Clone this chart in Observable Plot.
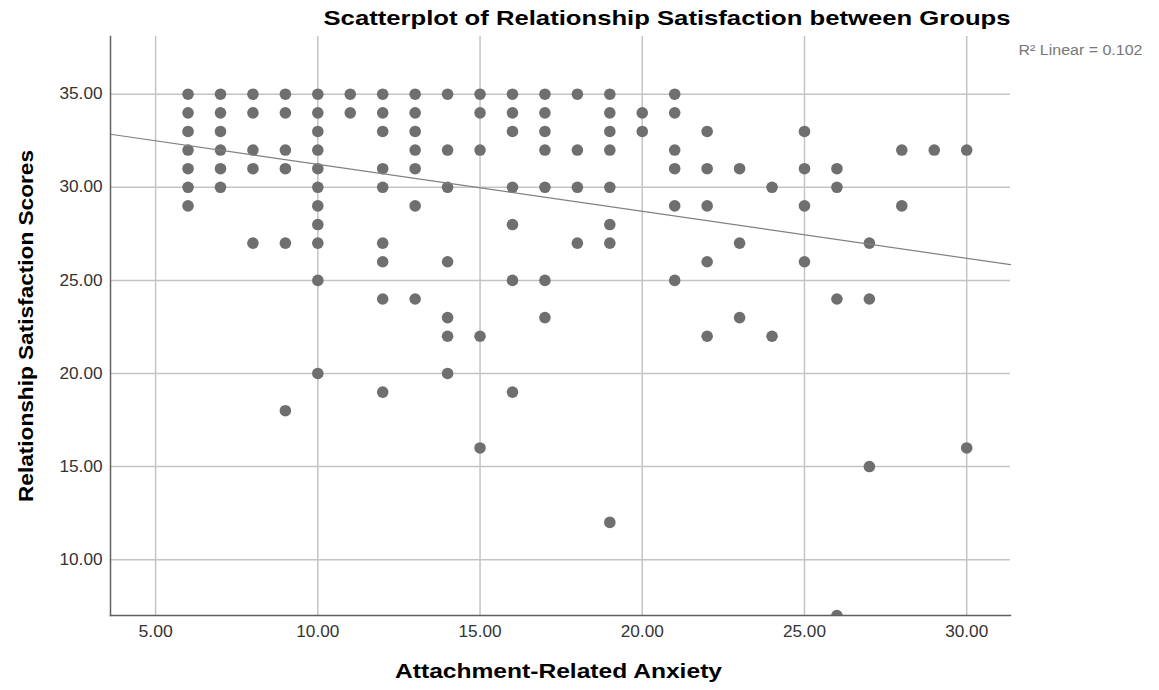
<!DOCTYPE html>
<html><head><meta charset="utf-8">
<script src="https://cdn.jsdelivr.net/npm/d3@7"></script>
<script src="https://cdn.jsdelivr.net/npm/@observablehq/plot@0.6"></script>
<style>body{margin:0;background:#fff;font-family:"Liberation Sans",Arial,sans-serif}</style>
</head><body><div id="chart"></div>
<script>
const chartTitle = "Scatterplot of Relationship Satisfaction between Groups";
const xLabel = "Attachment-Related Anxiety";
const yLabel = "Relationship Satisfaction Scores";
const fitLabel = "R\u00B2 Linear = 0.102";

const anxietyLevels = [6,7,8,9,10,11,12,13,14,15,16,17,18,19,20,21,22,23,24,25,26,27,28,29,30];
const satisfactionByAnxiety = [
  [35,34,33,32,31,30,29],
  [35,34,33,32,31,30],
  [35,34,32,31,27],
  [35,34,32,31,27,18],
  [35,34,33,32,31,30,29,28,27,25,20],
  [35,34],
  [35,34,33,31,30,27,26,24,19],
  [35,34,33,32,31,29,24],
  [35,32,30,26,23,22,20],
  [35,34,32,22,16],
  [35,34,33,30,28,25,19],
  [35,34,33,32,30,25,23],
  [35,32,30,27],
  [35,34,33,32,30,28,27,12],
  [34,33],
  [35,34,32,31,29,25],
  [33,31,29,26,22],
  [31,27,23],
  [30,22],
  [33,31,29,26],
  [31,30,24,7],
  [27,24,15],
  [32,29],
  [32],
  [32,16]
];
const xTicks = [5,10,15,20,25,30];
const yTicks = [10,15,20,25,30,35];
const xDomain = [3.61, 31.35];
const yDomain = [7, 38.1];
const fitIntercept = 33.76;
const fitSlope = -0.2525;

const points = anxietyLevels.flatMap((x, i) => satisfactionByAnxiety[i].map(y => ({x, y})));
const fitLine = xDomain.map(x => ({x, y: fitIntercept + fitSlope * x}));

const chart = Plot.plot({
  width: 1159,
  height: 690,
  marginLeft: 110,
  marginRight: 149,
  marginTop: 36,
  marginBottom: 75,
  style: {fontFamily: "'Liberation Sans', Arial, sans-serif", fontSize: "16px", color: "#333", background: "#fff"},
  x: {domain: xDomain, label: null},
  y: {domain: yDomain, label: null},
  marks: [
    Plot.gridX(xTicks, {stroke: "#c4c4c4", strokeOpacity: 1, strokeWidth: 1.5}),
    Plot.gridY(yTicks, {stroke: "#c4c4c4", strokeOpacity: 1, strokeWidth: 1.5}),
    Plot.axisX(xTicks, {tickSize: 0, tickPadding: 10, tickFormat: d => d.toFixed(2), fontSize: 16, fill: "#333", label: null}),
    Plot.axisY(yTicks, {tickSize: 0, tickPadding: 8, tickFormat: d => d.toFixed(2), fontSize: 16, fill: "#333", label: null}),
    Plot.dot(points, {x: "x", y: "y", r: 5.8, fill: "#6f6f6f", stroke: "none", clip: true}),
    Plot.line(fitLine, {x: "x", y: "y", stroke: "#808080", strokeWidth: 1.2}),
    Plot.frame({anchor: "left", stroke: "#606060", strokeWidth: 1.5}),
    Plot.frame({anchor: "bottom", stroke: "#606060", strokeWidth: 1.5}),
    Plot.text([chartTitle], {className: "ttl", frameAnchor: "top-right", textAnchor: "end", lineAnchor: "middle", dy: -18, fontSize: 21, fontWeight: "bold", fill: "#000"}),
    Plot.text([fitLabel], {className: "fitlbl", frameAnchor: "top-right", textAnchor: "start", lineAnchor: "middle", dx: 8, dy: 14, fontSize: 14, fill: "#777"}),
    Plot.text([xLabel], {className: "xlbl", frameAnchor: "bottom", textAnchor: "middle", lineAnchor: "middle", dx: -2, dy: 56, fontSize: 21, fontWeight: "bold", fill: "#000"}),
    Plot.text([yLabel], {className: "ylbl", frameAnchor: "left", textAnchor: "middle", lineAnchor: "middle", rotate: -90, dx: -84, fontSize: 21, fontWeight: "bold", fill: "#000"})
  ]
});
// match the slightly wider lettering of the reference
const stretch = (sel, len) => d3.select(chart).selectAll(sel)
  .attr("textLength", function() { return typeof len === "function" ? len(this.textContent) : len; })
  .attr("lengthAdjust", "spacingAndGlyphs");
stretch(".ttl text", 687);
stretch(".xlbl text", 327);
stretch(".ylbl text", 352);
stretch(".fitlbl text", 124);
stretch('g[aria-label="x-axis tick label"] text', s => s.length * 8.6);
stretch('g[aria-label="y-axis tick label"] text', s => s.length * 8.6);
document.getElementById("chart").append(chart);
</script>
</body></html>
